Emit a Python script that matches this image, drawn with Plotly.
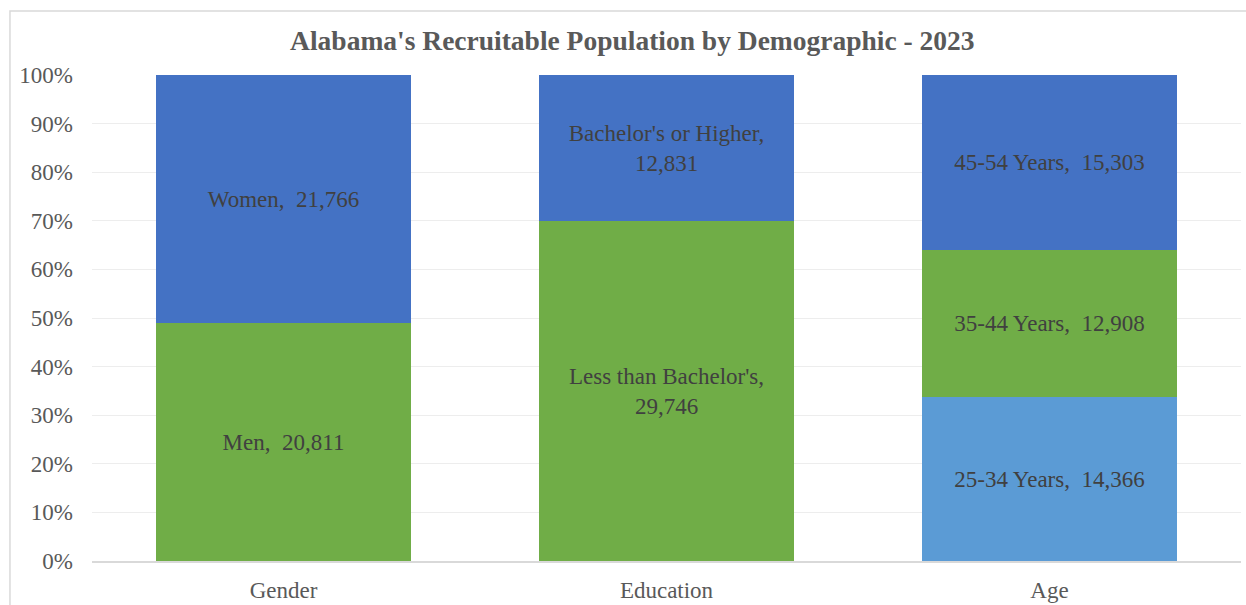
import plotly.graph_objects as go

categories = ["Gender", "Education", "Age"]

men = 20811
women = 21766
less_bach = 29746
bach_higher = 12831
age_25_34 = 14366
age_35_44 = 12908
age_45_54 = 15303

series = [
    ("Men", "Gender", men, "#70AD47", "Men,  20,811"),
    ("Women", "Gender", women, "#4472C4", "Women,  21,766"),
    ("Less than Bachelor's", "Education", less_bach, "#70AD47", "Less than Bachelor's,<br>29,746"),
    ("Bachelor's or Higher", "Education", bach_higher, "#4472C4", "Bachelor's or Higher,<br>12,831"),
    ("25-34 Years", "Age", age_25_34, "#5B9BD5", "25-34 Years,  14,366"),
    ("35-44 Years", "Age", age_35_44, "#70AD47", "35-44 Years,  12,908"),
    ("45-54 Years", "Age", age_45_54, "#4472C4", "45-54 Years,  15,303"),
]

FONT = "Liberation Serif"

fig = go.Figure()
for name, cat, val, color, label in series:
    fig.add_trace(go.Bar(
        x=[cat], y=[val], name=name,
        marker=dict(color=color, line=dict(width=0)),
        text=[label], textposition="inside", insidetextanchor="middle",
        textangle=0, constraintext="none",
        textfont=dict(family=FONT, size=23, color="#404040"),
        width=0.668,
    ))

fig.update_layout(
    barmode="stack", barnorm="percent",
    width=1246, height=605,
    margin=dict(l=92, r=5, t=75, b=44),
    paper_bgcolor="white", plot_bgcolor="white",
    showlegend=False,
    title=dict(text="<b>Alabama's Recruitable Population by Demographic - 2023</b>",
               x=0.5075, xanchor="center", y=0.934, yanchor="middle",
               font=dict(family=FONT, size=27.5, color="#595959")),
    xaxis=dict(categoryorder="array", categoryarray=categories,
               tickfont=dict(family=FONT, size=23, color="#595959"),
               showline=True, linecolor="#D9D9D9", linewidth=1.5, ticks="",
               ticklabelstandoff=8, automargin=False),
    yaxis=dict(range=[0, 100], dtick=10, ticksuffix="%",
               tickfont=dict(family=FONT, size=23, color="#595959"),
               showgrid=True, gridcolor="#EDEDED", gridwidth=1,
               zeroline=False, ticklabelstandoff=18, automargin=False),
    shapes=[dict(type="rect", xref="paper", yref="paper",
                 x0=-0.0714, x1=1.02, y0=-0.2, y1=1.1317,
                 line=dict(color="#D9D9D9", width=1.5), layer="below")],
)

fig.write_html("out.html")
